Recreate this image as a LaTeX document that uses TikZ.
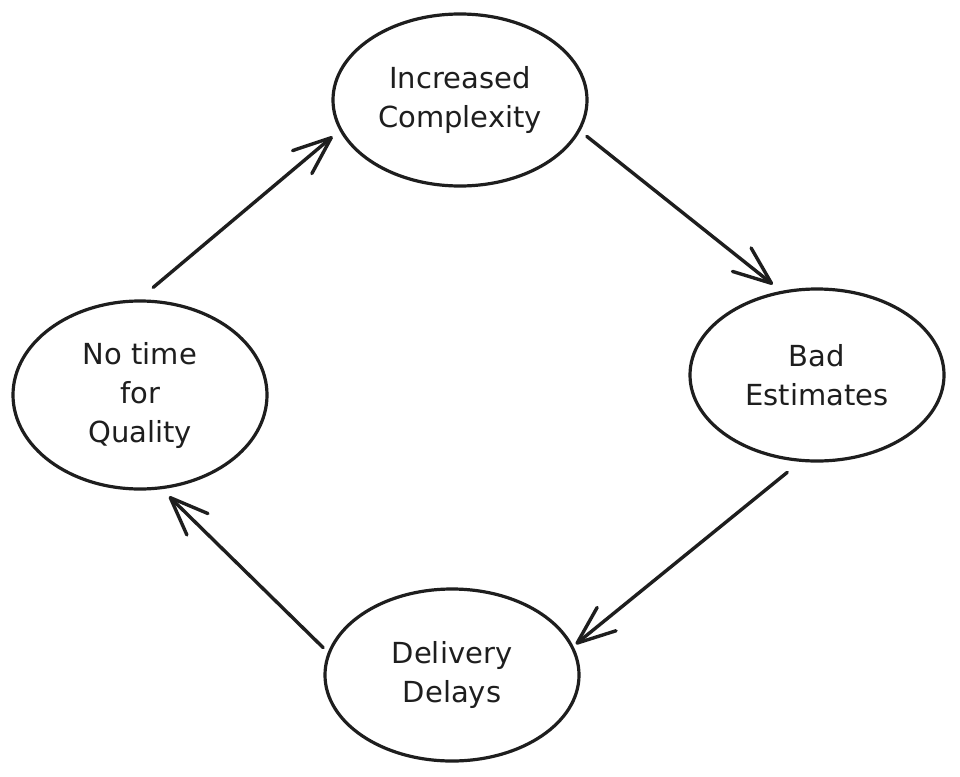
\documentclass[tikz,border=0pt]{standalone}
\usepackage{fontspec}
\setmainfont{DejaVu Sans}
\usetikzlibrary{shapes.geometric,arrows.meta,calc}
\definecolor{ink}{HTML}{1E1E1E}
\begin{document}
\begin{tikzpicture}[x=1pt,y=-1pt,
  cyc/.style={ellipse, draw=ink, line width=3.2pt, minimum width=254pt,
    minimum height=172pt, inner sep=0pt, align=center, text=ink,
    font=\fontsize{29}{39}\selectfont},
  arr/.style={draw=ink, line width=3.4pt, line cap=round,
    -{Straight Barb[length=38pt,width=30pt,round]}}]
\useasboundingbox[fill=white] (0,0) rectangle (960,776);
\node[cyc] (top) at (460,100) {Increased\\Complexity};
\node[cyc] (right) at (817,375) {Bad\\Estimates};
\node[cyc] (bottom) at (452,675) {Delivery\\Delays};
\node[cyc, minimum height=188pt] (left) at (140,395) {No time\\for\\Quality};
\draw[arr] ($(left)!1.13!(left.83)$) -- ($(top)!1.075!(top.196)$);
\draw[arr] ($(top)!1.07!(top.344)$) -- ($(right)!1.09!(right.116)$);
\draw[arr] ($(right)!1.135!(right.253)$) -- ($(bottom)!1.025!(bottom.14.5)$);
\draw[arr] ($(bottom)!1.05!(bottom.168)$) -- ($(left)!1.085!(left.286)$);
\end{tikzpicture}
\end{document}
